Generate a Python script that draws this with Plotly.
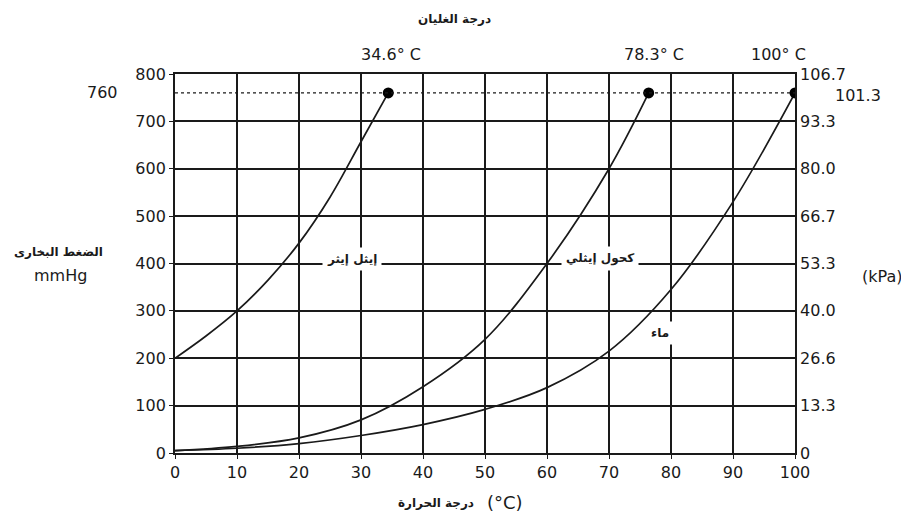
from plotly import graph_objects as go

# temperature (°C) and vapour pressure (mmHg)
ether_t = [0, 5, 10, 15, 20, 25, 30, 34.4]
ether_p = [200, 247, 300, 365, 443, 540, 657, 760]

ethanol_t = [0, 10, 20, 30, 40, 50, 60, 70, 76.4]
ethanol_p = [5, 14, 32, 70, 140, 240, 400, 600, 760]

water_t = [0, 10, 20, 30, 40, 50, 60, 70, 80, 90, 100]
water_p = [5, 10, 20, 37, 60, 92, 138, 215, 345, 530, 760]

boil_t = [34.4, 76.4, 100]
boil_p = [760, 760, 760]
boil_labels = ['34.6° C', '78.3° C', '100° C']

mmhg_ticks = [0, 100, 200, 300, 400, 500, 600, 700, 800]
kpa_labels = ['0', '13.3', '26.6', '40.0', '53.3', '66.7', '80.0', '93.3', '106.7']
x_ticks = [0, 10, 20, 30, 40, 50, 60, 70, 80, 90, 100]

FONT = 'DejaVu Sans, Liberation Sans, sans-serif'
INK = '#1a1a1a'
NUM = dict(size=16, color=INK)
ARAB = dict(size=12, color=INK)

fig = go.Figure()
line = dict(color=INK, width=1.7, smoothing=1.0)
fig.add_trace(go.Scatter(x=ether_t, y=ether_p, mode='lines', line_shape='spline', line=line, showlegend=False))
fig.add_trace(go.Scatter(x=ethanol_t, y=ethanol_p, mode='lines', line_shape='spline', line=line, showlegend=False))
fig.add_trace(go.Scatter(x=water_t, y=water_p, mode='lines', line_shape='spline', line=line, showlegend=False))
fig.add_trace(go.Scatter(x=boil_t, y=boil_p, mode='markers', marker=dict(color='black', size=11), showlegend=False))
# invisible trace so the kPa axis is drawn
fig.add_trace(go.Scatter(x=[0], y=[0], yaxis='y2', mode='markers', marker=dict(opacity=0),
                         showlegend=False, hoverinfo='skip'))

fig.add_shape(type='line', x0=0, x1=100, y0=760, y1=760, xref='x', yref='y',
              line=dict(color=INK, width=1.3, dash='dot'))

for t, lab, dx in zip(boil_t, boil_labels, [3, 5, -17]):
    fig.add_annotation(x=t, y=1, xref='x', yref='paper', yanchor='bottom', yshift=8, xshift=dx, text=lab,
                       showarrow=False, font=NUM)

fig.add_annotation(x=0.45, y=1, xref='paper', yref='paper', yanchor='bottom', yshift=46,
                   text='<b>درجة الغليان</b>', showarrow=False, font=ARAB)
fig.add_annotation(x=0, y=760, xref='paper', yref='y', xanchor='right', xshift=-55,
                   text='760', showarrow=False, font=NUM)
fig.add_annotation(x=1, y=760, xref='paper', yref='y', xanchor='left', xshift=38, yshift=-3,
                   text='101.3', showarrow=False, font=NUM)
fig.add_annotation(x=0, y=0.5, xref='paper', yref='paper', xanchor='center', xshift=-117, yshift=12,
                   text='<b>الضغط البخارى</b>', showarrow=False, font=ARAB)
fig.add_annotation(x=0, y=0.5, xref='paper', yref='paper', xanchor='center', xshift=-115, yshift=-12,
                   text='mmHg', showarrow=False, font=NUM)
fig.add_annotation(x=1, y=0.5, xref='paper', yref='paper', xanchor='center', xshift=87, yshift=-13,
                   text='(kPa)', showarrow=False, font=NUM)
fig.add_annotation(x=0.5, y=0, xref='paper', yref='paper', yanchor='top', yshift=-41, xshift=-49,
                   text='<b>درجة الحرارة</b>', showarrow=False, font=ARAB)
fig.add_annotation(x=0.5, y=0, xref='paper', yref='paper', yanchor='top', yshift=-37, xshift=20,
                   text='(°C)', showarrow=False, font=dict(size=18, color=INK))

# curve labels sitting on white patches
fig.add_annotation(x=28.5, y=410, text='<b>إيثل إيثر</b>', showarrow=False, bgcolor='white',
                   font=ARAB, borderpad=4)
fig.add_annotation(x=68.5, y=410, text='<b>كحول إيثلي</b>', showarrow=False, bgcolor='white',
                   font=ARAB, borderpad=4)
fig.add_annotation(x=78.2, y=253, text='<b>ماء</b>', showarrow=False, bgcolor='white',
                   font=ARAB, borderpad=4)

axis_common = dict(showline=True, linecolor=INK, linewidth=1.8, gridcolor=INK, gridwidth=1.7,
                   ticks='outside', ticklen=4, tickcolor=INK, zeroline=False, tickfont=NUM)

# the page adds an 8px body margin, so the figure is drawn 16px smaller than the window
fig.update_layout(
    width=893, height=510,
    margin=dict(l=167, r=106, t=66, b=65),
    plot_bgcolor='white', paper_bgcolor='white',
    font=dict(family=FONT, color=INK),
    xaxis=dict(range=[0, 100], tickvals=x_ticks, mirror=True, **axis_common),
    yaxis=dict(range=[0, 800], tickvals=mmhg_ticks, **axis_common),
    yaxis2=dict(range=[0, 800], tickvals=mmhg_ticks, ticktext=kpa_labels, overlaying='y', side='right',
                showgrid=False, showline=True, linecolor=INK, linewidth=1.8, ticks='',
                tickfont=NUM, zeroline=False),
)

fig.write_html("out.html")
